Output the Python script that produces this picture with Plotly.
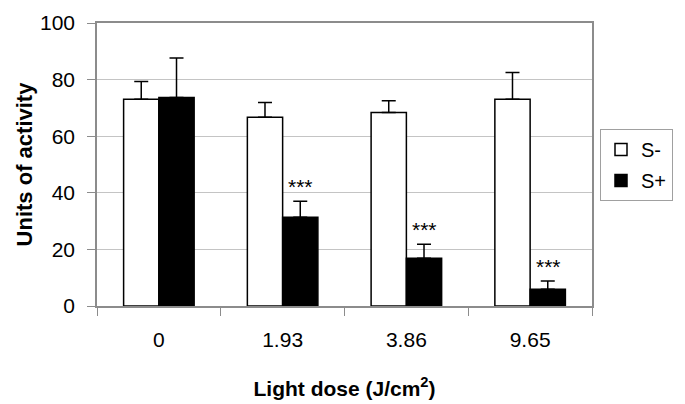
import plotly.graph_objects as go

doses = ["0", "1.93", "3.86", "9.65"]
s_minus = [73.1, 66.7, 68.4, 73.1]
s_minus_err = [6.2, 5.2, 4.1, 9.4]
s_plus = [73.7, 31.4, 16.9, 5.9]
s_plus_err = [13.9, 5.6, 4.9, 2.9]
stars = ["", "***", "***", "***"]
y_ticks = [0, 20, 40, 60, 80, 100]

FONT = "Liberation Sans Narrow, Arial Narrow, Liberation Sans, Arial, sans-serif"

fig = go.Figure()
fig.add_trace(go.Bar(
    x=doses, y=s_minus, name="S-", legendgroup="a",
    marker=dict(color="white", line=dict(color="black", width=1.5)),
    error_y=dict(type="data", array=s_minus_err, arrayminus=[0]*4, symmetric=False,
                 color="black", thickness=1.5, width=7),
))
fig.add_trace(go.Bar(
    x=doses, y=s_plus, name="S+", legendgroup="b",
    marker=dict(color="black", line=dict(color="black", width=1.5)),
    error_y=dict(type="data", array=s_plus_err, arrayminus=[0]*4, symmetric=False,
                 color="black", thickness=1.5, width=7),
))

for i, (v, e, s) in enumerate(zip(s_plus, s_plus_err, stars)):
    if s:
        fig.add_annotation(x=i, y=v + e, text=s, showarrow=False, xref="x", yref="y",
                           xshift=18, yanchor="bottom", yshift=1,
                           font=dict(size=21, color="black", family=FONT))

fig.update_layout(
    width=685, height=404,
    margin=dict(l=97, r=93, t=23, b=98),
    paper_bgcolor="white", plot_bgcolor="white",
    barmode="group", bargap=0.43, bargroupgap=0,
    font=dict(family=FONT, size=21, color="black"),
    showlegend=True,
    legend=dict(x=(600-97)/(685-97-93), y=(306-129)/(306-23),
                xanchor="left", yanchor="top",
                bordercolor="#a0a0a0", borderwidth=1, bgcolor="white",
                font=dict(size=20, family=FONT), itemwidth=30,
                traceorder="grouped", tracegroupgap=2),
)

fig.update_xaxes(
    type="category", tickson="boundaries", range=[-0.5, 3.5], tickangle=0,
    showline=True, linecolor="#8c8c8c", linewidth=1.5, mirror=True,
    ticks="outside", ticklen=8, tickcolor="#8c8c8c", tickwidth=1,
    showgrid=False, ticklabelstandoff=14, automargin=False,
    tickfont=dict(size=21, family=FONT),
    title=dict(text="<b>Light dose (J/cm<sup>2</sup>)</b>", font=dict(size=21, family=FONT), standoff=31),
)
fig.update_yaxes(
    range=[0, 100], tickvals=y_ticks,
    showline=True, linecolor="#8c8c8c", linewidth=1.5, mirror=True,
    ticks="outside", ticklen=8, tickcolor="#8c8c8c", tickwidth=1,
    showgrid=True, gridcolor="#c4c4c4", gridwidth=1,
    zeroline=False, automargin=False,
    ticklabelstandoff=8,
    tickfont=dict(size=21, family=FONT),
    title=dict(text="<b>Units of activity</b>", font=dict(size=22, family=FONT), standoff=1),
)

fig.write_html("out.html", config={"displayModeBar": False},
               post_script="document.body.style.margin='0px';")
